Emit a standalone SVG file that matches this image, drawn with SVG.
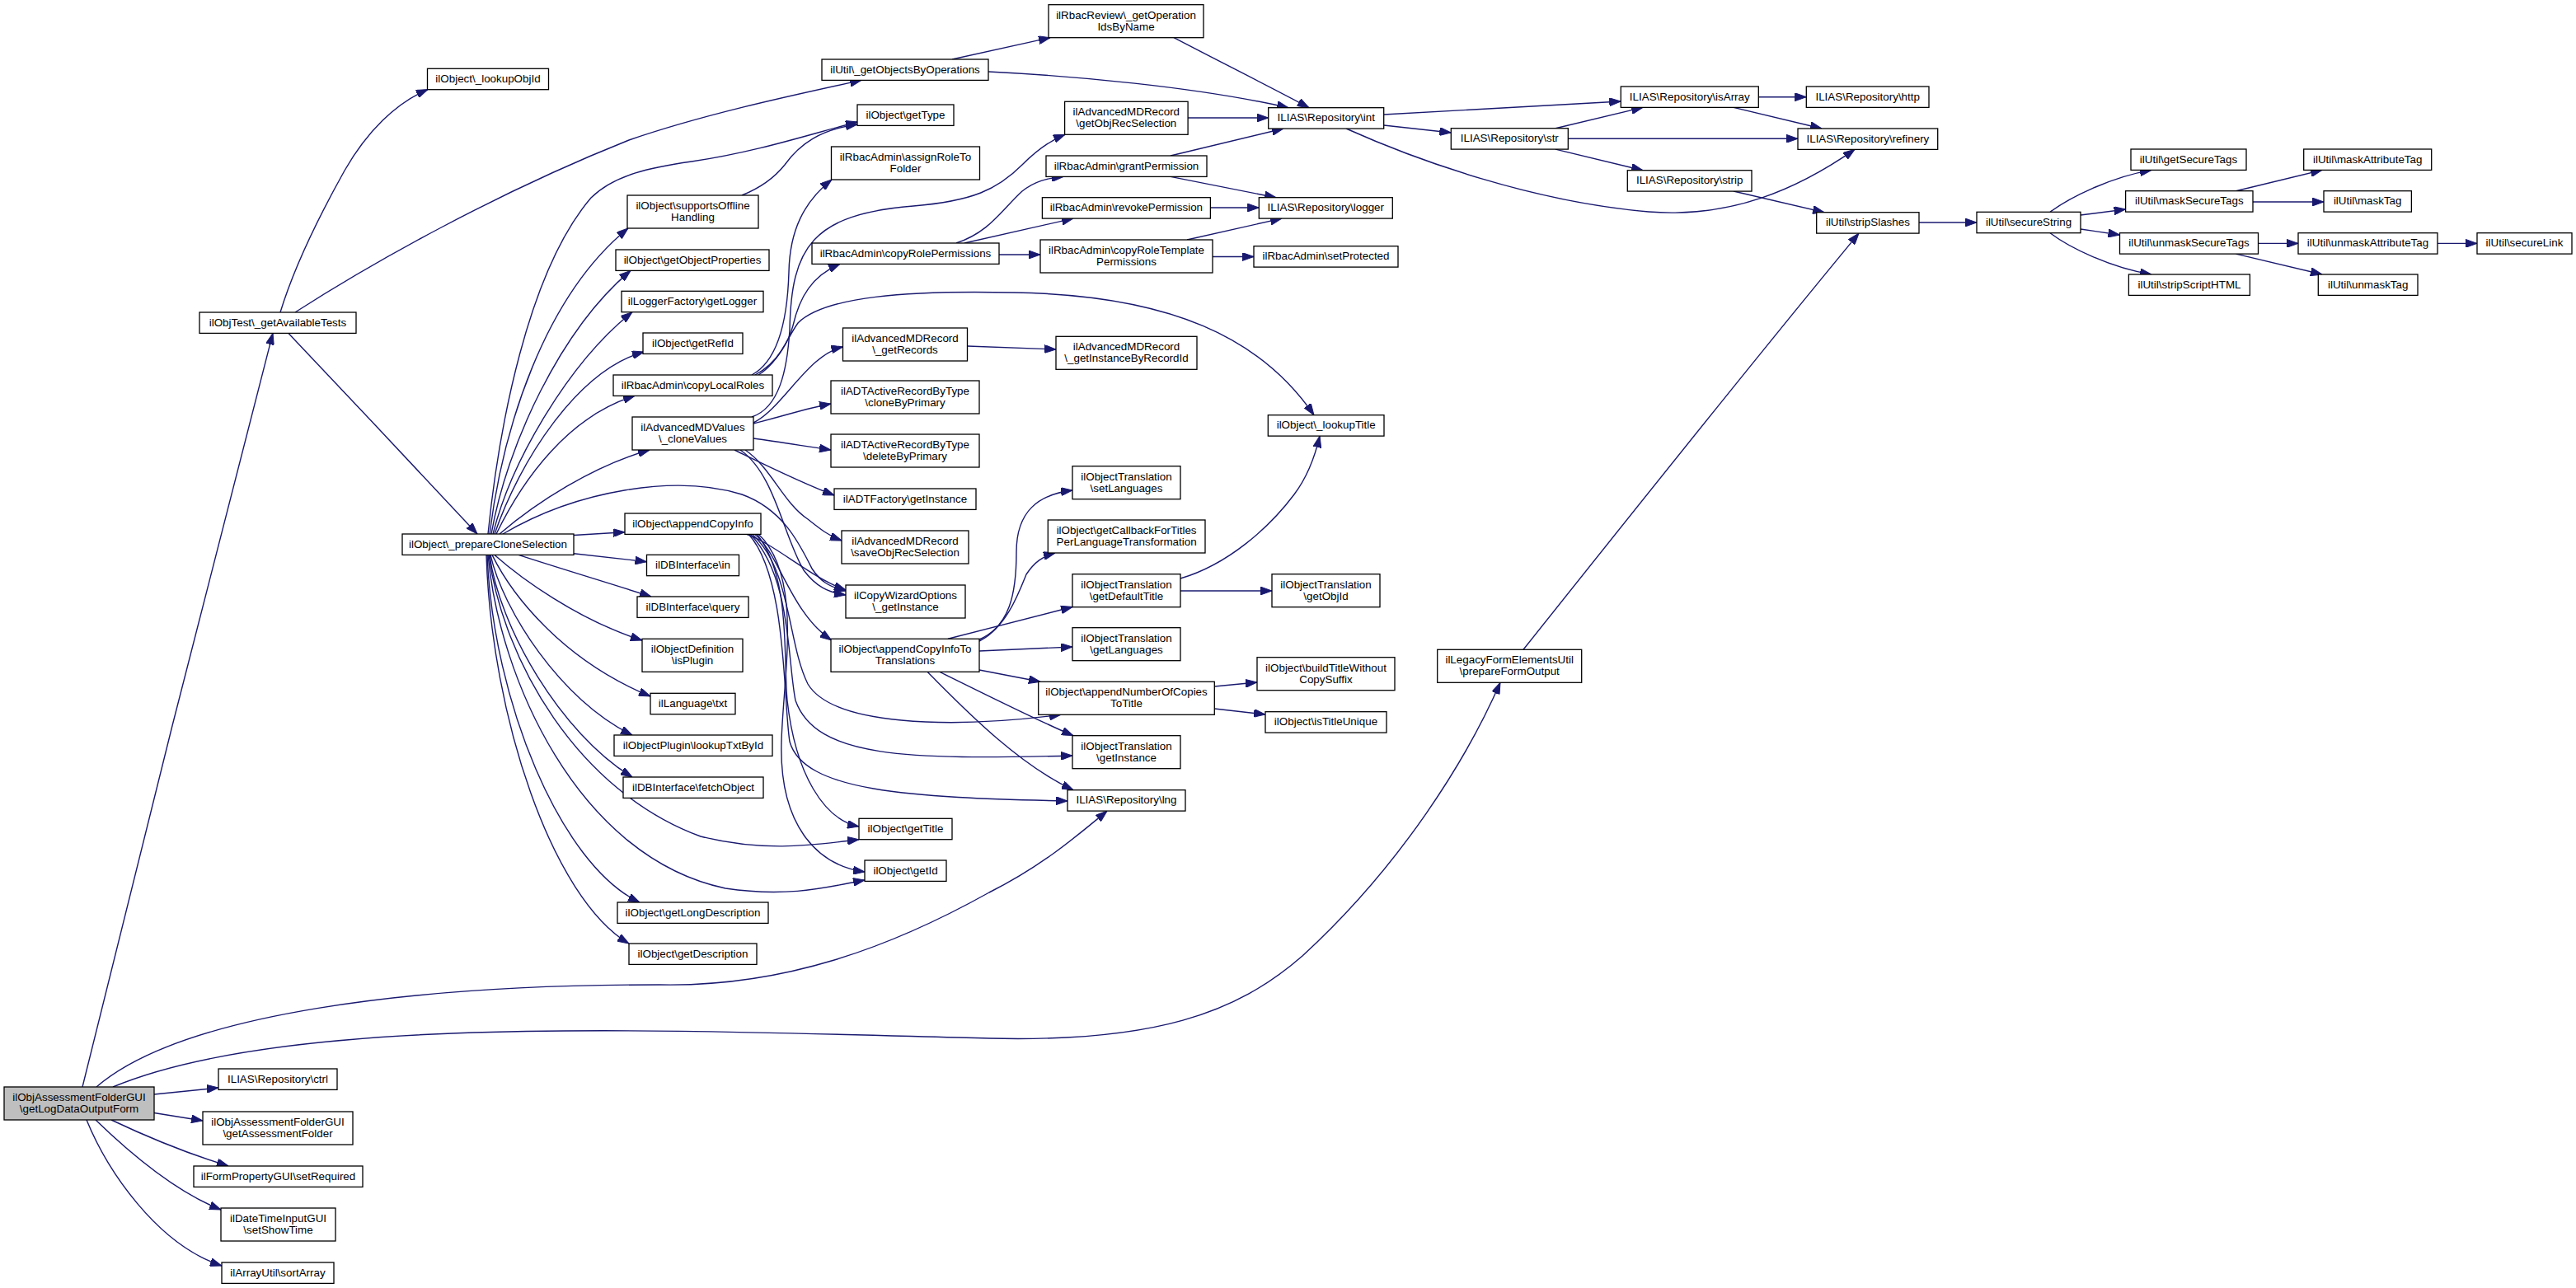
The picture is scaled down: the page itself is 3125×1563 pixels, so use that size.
<svg xmlns="http://www.w3.org/2000/svg" width="3125" height="1563" viewBox="0 0 3125 1563">
<defs>
<marker id="a" markerWidth="14" markerHeight="10" refX="14" refY="5" orient="auto" markerUnits="userSpaceOnUse"><path d="M0,0 L14,5 L0,10 z" fill="#191970" stroke="#191970" stroke-width="1"/></marker>
<style>
.n rect{fill:#fff;stroke:#000;stroke-width:1.3}
.n.m rect{fill:#bfbfbf}
.n text{font-family:"Liberation Sans",Arial,Helvetica,sans-serif;font-size:13.4px;text-anchor:middle;fill:#000}
.e path{fill:none;stroke:#191970;stroke-width:1.4;marker-end:url(#a)}
</style>
</defs>
<rect width="3125" height="1563" fill="#fff"/>
<g id="connectors" class="e">
<path d="M100,1319 C150,1110 290,560 331,404.4"/>
<path d="M187,1328 L265,1320"/>
<path d="M187,1350.5 L246,1360"/>
<path d="M135,1359 C175,1378 228,1400 277,1415"/>
<path d="M116,1359 C150,1392 210,1445 268,1468"/>
<path d="M105,1359 C130,1420 190,1510 269,1536"/>
<path d="M117,1319 C220,1230 500,1195 800,1195 C950,1198 1080,1150 1200,1083 C1260,1053 1300,1020 1343,984.1"/>
<path d="M137,1319 C350,1230 800,1250 1200,1260 C1400,1265 1500,1230 1580,1160 C1700,1050 1780,920 1820,828.3"/>
<path d="M340,379 C355,330 380,275 418,207 C445,160 480,125 519,108.6"/>
<path d="M358,379 C450,320 600,235 763,170 C850,140 950,118 1045,97.4"/>
<path d="M350,404.4 C420,478 520,585 579,648"/>
<path d="M592,648 C605,520 640,330 717,240 C745,212 790,203 839,196 C920,184 985,162 1040,148"/>
<path d="M594,648 C610,520 660,360 762,277"/>
<path d="M596,648 C615,540 680,400 765,328.4"/>
<path d="M598,648 C620,560 690,440 767,378.7"/>
<path d="M600,648 C630,560 700,450 781,427"/>
<path d="M602,648 C635,580 690,505 770,480.4"/>
<path d="M606,648 C650,610 720,565 788,546"/>
<path d="M610,648 C700,595 820,575 900,600 C950,618 970,660 985,690 C995,705 1005,712 1026,717"/>
<path d="M696,649.5 L758,645.7"/>
<path d="M696,671.7 L784.5,681.7"/>
<path d="M629,673.4 C680,690 740,708 790,724"/>
<path d="M600,673.4 C630,700 700,752 779,777"/>
<path d="M597,673.4 C620,720 680,800 789,845"/>
<path d="M595,673.4 C610,740 680,850 767,892"/>
<path d="M594,673.4 C605,760 680,890 767,943"/>
<path d="M593,673.4 C610,800 700,960 850,1015 C930,1035 990,1025 1042,1018.7"/>
<path d="M592,673.4 C605,820 700,1040 880,1078 C960,1090 1010,1075 1049,1068"/>
<path d="M591,673.4 C598,850 680,1050 776,1095"/>
<path d="M590,673.4 C596,870 670,1090 763,1145"/>
<path d="M900,237 C925,227 940,215 952,200 C970,175 995,157 1040,151"/>
<path d="M912,455 C940,440 955,400 957,330 C958,280 975,245 1009,218"/>
<path d="M916,455 C945,440 958,410 962,395 C970,360 985,335 1019,320.4"/>
<path d="M920,455 C945,440 955,410 968,392 C1000,360 1100,352 1230,355 C1420,358 1530,410 1594,503.7"/>
<path d="M912,506 C945,495 955,450 958,400 C960,300 985,260 1108,250 C1180,244 1210,230 1240,200 C1260,180 1275,170 1292,163.3"/>
<path d="M914,513 C950,495 980,430 1022.5,421"/>
<path d="M914,514 C950,505 980,495 1008,490"/>
<path d="M914,532 C950,537 980,542 1008,546"/>
<path d="M891,546 C930,565 970,585 1012,601"/>
<path d="M904,546 C935,567 950,610 980,630 C995,642 1005,650 1021,656"/>
<path d="M898,546 C940,575 950,650 975,692 C990,712 1005,719 1026,722"/>
<path d="M905,648 C940,660 985,702 1026,716"/>
<path d="M915,648 C945,670 958,742 1008.6,777"/>
<path d="M918,648 C960,700 950,800 955,850 C965,940 1000,995 1042,1003"/>
<path d="M920,648 C975,700 950,820 948,900 C945,1000 990,1050 1049,1058"/>
<path d="M912,648 C960,690 955,780 980,830 C1010,880 1150,885 1287,867.3"/>
<path d="M910,648 C960,700 955,800 965,850 C990,920 1100,922 1301,917"/>
<path d="M908,648 C955,700 950,850 958,900 C975,960 1100,968 1295,972"/>
<path d="M1188,776 C1225,760 1233,720 1233,670 C1233,620 1260,600 1301,595"/>
<path d="M1188,778 C1220,762 1235,722 1245,697 C1255,682 1265,675 1280,671"/>
<path d="M1150,775.3 L1301,736.5"/>
<path d="M1188,790 L1301,785"/>
<path d="M1188,813 L1262,827.3"/>
<path d="M1140,815.3 C1200,845 1260,875 1302,892.7"/>
<path d="M1125,815.3 C1160,850 1230,925 1302,958.7"/>
<path d="M1432,702 C1490,685 1540,640 1570,600 C1585,580 1595,555 1601,529.1"/>
<path d="M1432,717 L1543,717"/>
<path d="M1473.3,833 L1525,828"/>
<path d="M1473.3,860 L1535,867"/>
<path d="M1173.5,420 L1281,424"/>
<path d="M1155,72 L1274,45.7"/>
<path d="M1199,87 C1300,92 1450,105 1563,130.7"/>
<path d="M1424,45.7 C1480,75 1540,105 1588,130.7"/>
<path d="M1441,143 L1538.7,143"/>
<path d="M1420,189 L1557,156"/>
<path d="M1420,214.4 L1548,239.7"/>
<path d="M1468.4,252 L1527.3,252"/>
<path d="M1440,291 L1555,265.1"/>
<path d="M1471,311.5 L1521,311.5"/>
<path d="M1160,295 C1200,282 1215,255 1240,232 C1255,220 1270,216 1290,214.4"/>
<path d="M1170,295 L1302,265.1"/>
<path d="M1212,309 L1262,309"/>
<path d="M1678.7,139 L1966.3,123"/>
<path d="M1678.7,152 L1760.3,161"/>
<path d="M1633,156 C1720,195 1860,245 2000,257 C2100,265 2180,230 2250,181.4"/>
<path d="M1887,155.7 L1993,130.4"/>
<path d="M1902.3,168.3 L2181,168.3"/>
<path d="M1887,181.1 L1993,206.7"/>
<path d="M2133.3,117.7 L2191.3,117.7"/>
<path d="M2103,130.4 L2210,156"/>
<path d="M2103,232 L2213,257.7"/>
<path d="M2328,270 L2398,270"/>
<path d="M1848,788.3 C1950,660 2150,410 2255,283.1"/>
<path d="M2487,257.3 C2510,240 2560,215 2610,206.4"/>
<path d="M2524,261 L2578.6,254"/>
<path d="M2524,278 L2571.5,285"/>
<path d="M2487,282.7 C2510,300 2560,325 2610,333"/>
<path d="M2712.5,231.7 L2817,206.4"/>
<path d="M2733,245 L2819,245"/>
<path d="M2739.5,295.4 L2788,295.4"/>
<path d="M2712.5,308.1 L2817,333"/>
<path d="M2957,295.4 L3005,295.4"/>
</g>
<g id="n0" class="n m"><rect x="5" y="1319" width="182" height="40"/><text x="96" y="1336">ilObjAssessmentFolderGUI</text><text x="96" y="1350">\getLogDataOutputForm</text></g>
<g id="n1" class="n"><rect x="242" y="379" width="190" height="25.4"/><text x="337" y="395.5">ilObjTest\_getAvailableTests</text></g>
<g id="n2" class="n"><rect x="265" y="1297" width="144" height="25.4"/><text x="337" y="1313.5">ILIAS\Repository\ctrl</text></g>
<g id="n3" class="n"><rect x="246" y="1349" width="182" height="40"/><text x="337" y="1366">ilObjAssessmentFolderGUI</text><text x="337" y="1380">\getAssessmentFolder</text></g>
<g id="n4" class="n"><rect x="235" y="1415" width="205" height="25.4"/><text x="337.5" y="1431.5">ilFormPropertyGUI\setRequired</text></g>
<g id="n5" class="n"><rect x="268" y="1466" width="139" height="40"/><text x="337.5" y="1483">ilDateTimeInputGUI</text><text x="337.5" y="1497">\setShowTime</text></g>
<g id="n6" class="n"><rect x="269" y="1532" width="136" height="25.4"/><text x="337" y="1548.5">ilArrayUtil\sortArray</text></g>
<g id="n7" class="n"><rect x="518.5" y="83.3" width="147" height="25.4"/><text x="592" y="99.8">ilObject\_lookupObjId</text></g>
<g id="n8" class="n"><rect x="488" y="648" width="208" height="25.4"/><text x="592" y="664.5">ilObject\_prepareCloneSelection</text></g>
<g id="n9" class="n"><rect x="997" y="72" width="202" height="25.4"/><text x="1098" y="88.5">ilUtil\_getObjectsByOperations</text></g>
<g id="n10" class="n"><rect x="1040" y="127" width="117" height="25.4"/><text x="1098.5" y="143.5">ilObject\getType</text></g>
<g id="n11" class="n"><rect x="761" y="237" width="159" height="40"/><text x="840.5" y="254">ilObject\supportsOffline</text><text x="840.5" y="268">Handling</text></g>
<g id="n12" class="n"><rect x="747" y="303" width="186" height="25.4"/><text x="840" y="319.5">ilObject\getObjectProperties</text></g>
<g id="n13" class="n"><rect x="754" y="353.3" width="172" height="25.4"/><text x="840" y="369.8">ilLoggerFactory\getLogger</text></g>
<g id="n14" class="n"><rect x="780" y="404" width="121" height="25.4"/><text x="840.5" y="420.5">ilObject\getRefId</text></g>
<g id="n15" class="n"><rect x="744" y="455" width="193" height="25.4"/><text x="840.5" y="471.5">ilRbacAdmin\copyLocalRoles</text></g>
<g id="n16" class="n"><rect x="767" y="506" width="147" height="40"/><text x="840.5" y="523">ilAdvancedMDValues</text><text x="840.5" y="537">\_cloneValues</text></g>
<g id="n17" class="n"><rect x="758" y="623" width="165" height="25.4"/><text x="840.5" y="639.5">ilObject\appendCopyInfo</text></g>
<g id="n18" class="n"><rect x="784.5" y="673.3" width="112" height="25.4"/><text x="840.5" y="689.8">ilDBInterface\in</text></g>
<g id="n19" class="n"><rect x="773" y="724" width="135" height="25.4"/><text x="840.5" y="740.5">ilDBInterface\query</text></g>
<g id="n20" class="n"><rect x="779" y="775.3" width="122" height="40"/><text x="840" y="792.3">ilObjectDefinition</text><text x="840" y="806.3">\isPlugin</text></g>
<g id="n21" class="n"><rect x="789" y="841.3" width="103" height="25.4"/><text x="840.5" y="857.8">ilLanguage\txt</text></g>
<g id="n22" class="n"><rect x="745" y="892" width="192" height="25.4"/><text x="841" y="908.5">ilObjectPlugin\lookupTxtById</text></g>
<g id="n23" class="n"><rect x="756" y="943" width="170" height="25.4"/><text x="841" y="959.5">ilDBInterface\fetchObject</text></g>
<g id="n24" class="n"><rect x="749" y="1095" width="183" height="25.4"/><text x="840.5" y="1111.5">ilObject\getLongDescription</text></g>
<g id="n25" class="n"><rect x="763" y="1145" width="155" height="25.4"/><text x="840.5" y="1161.5">ilObject\getDescription</text></g>
<g id="n26" class="n"><rect x="1008.5" y="178" width="180" height="40"/><text x="1098.5" y="195">ilRbacAdmin\assignRoleTo</text><text x="1098.5" y="209">Folder</text></g>
<g id="n27" class="n"><rect x="985" y="295" width="227" height="25.4"/><text x="1098.5" y="311.5">ilRbacAdmin\copyRolePermissions</text></g>
<g id="n28" class="n"><rect x="1022.5" y="398" width="151" height="40"/><text x="1098" y="415">ilAdvancedMDRecord</text><text x="1098" y="429">\_getRecords</text></g>
<g id="n29" class="n"><rect x="1008" y="462" width="180" height="40"/><text x="1098" y="479">ilADTActiveRecordByType</text><text x="1098" y="493">\cloneByPrimary</text></g>
<g id="n30" class="n"><rect x="1008" y="527" width="180" height="40"/><text x="1098" y="544">ilADTActiveRecordByType</text><text x="1098" y="558">\deleteByPrimary</text></g>
<g id="n31" class="n"><rect x="1012" y="593" width="172" height="25.4"/><text x="1098" y="609.5">ilADTFactory\getInstance</text></g>
<g id="n32" class="n"><rect x="1021" y="644" width="154" height="40"/><text x="1098" y="661">ilAdvancedMDRecord</text><text x="1098" y="675">\saveObjRecSelection</text></g>
<g id="n33" class="n"><rect x="1026" y="710" width="145" height="40"/><text x="1098.5" y="727">ilCopyWizardOptions</text><text x="1098.5" y="741">\_getInstance</text></g>
<g id="n34" class="n"><rect x="1008" y="775.3" width="180" height="40"/><text x="1098" y="792.3">ilObject\appendCopyInfoTo</text><text x="1098" y="806.3">Translations</text></g>
<g id="n35" class="n"><rect x="1042" y="993.3" width="113" height="25.4"/><text x="1098.5" y="1009.8">ilObject\getTitle</text></g>
<g id="n36" class="n"><rect x="1049" y="1044" width="99" height="25.4"/><text x="1098.5" y="1060.5">ilObject\getId</text></g>
<g id="n37" class="n"><rect x="1272" y="5.7" width="188" height="40"/><text x="1366" y="22.7">ilRbacReview\_getOperation</text><text x="1366" y="36.7">IdsByName</text></g>
<g id="n38" class="n"><rect x="1291.6" y="123.3" width="149.5" height="40"/><text x="1366.3" y="140.3">ilAdvancedMDRecord</text><text x="1366.3" y="154.3">\getObjRecSelection</text></g>
<g id="n39" class="n"><rect x="1269" y="189" width="195" height="25.4"/><text x="1366.5" y="205.5">ilRbacAdmin\grantPermission</text></g>
<g id="n40" class="n"><rect x="1264.4" y="239.7" width="204" height="25.4"/><text x="1366.4" y="256.2">ilRbacAdmin\revokePermission</text></g>
<g id="n41" class="n"><rect x="1262" y="291" width="209" height="40"/><text x="1366.5" y="308">ilRbacAdmin\copyRoleTemplate</text><text x="1366.5" y="322">Permissions</text></g>
<g id="n42" class="n"><rect x="1281" y="408.3" width="171" height="40"/><text x="1366.5" y="425.3">ilAdvancedMDRecord</text><text x="1366.5" y="439.3">\_getInstanceByRecordId</text></g>
<g id="n43" class="n"><rect x="1301" y="565.7" width="131" height="40"/><text x="1366.5" y="582.7">ilObjectTranslation</text><text x="1366.5" y="596.7">\setLanguages</text></g>
<g id="n44" class="n"><rect x="1271.3" y="631" width="190.7" height="40"/><text x="1366.6" y="648">ilObject\getCallbackForTitles</text><text x="1366.6" y="662">PerLanguageTransformation</text></g>
<g id="n45" class="n"><rect x="1301" y="696.7" width="131" height="40"/><text x="1366.5" y="713.7">ilObjectTranslation</text><text x="1366.5" y="727.7">\getDefaultTitle</text></g>
<g id="n46" class="n"><rect x="1301" y="761.7" width="131" height="40"/><text x="1366.5" y="778.7">ilObjectTranslation</text><text x="1366.5" y="792.7">\getLanguages</text></g>
<g id="n47" class="n"><rect x="1259.7" y="827.3" width="213.6" height="40"/><text x="1366.5" y="844.3">ilObject\appendNumberOfCopies</text><text x="1366.5" y="858.3">ToTitle</text></g>
<g id="n48" class="n"><rect x="1301" y="892.7" width="131" height="40"/><text x="1366.5" y="909.7">ilObjectTranslation</text><text x="1366.5" y="923.7">\getInstance</text></g>
<g id="n49" class="n"><rect x="1295" y="958.7" width="143" height="25.4"/><text x="1366.5" y="975.2">ILIAS\Repository\lng</text></g>
<g id="n50" class="n"><rect x="1538.7" y="130.7" width="140" height="25.4"/><text x="1608.7" y="147.2">ILIAS\Repository\int</text></g>
<g id="n51" class="n"><rect x="1527.3" y="239.7" width="162" height="25.4"/><text x="1608.3" y="256.2">ILIAS\Repository\logger</text></g>
<g id="n52" class="n"><rect x="1521" y="298.7" width="175" height="25.4"/><text x="1608.5" y="315.2">ilRbacAdmin\setProtected</text></g>
<g id="n53" class="n"><rect x="1538.3" y="503.7" width="140.7" height="25.4"/><text x="1608.7" y="520.2">ilObject\_lookupTitle</text></g>
<g id="n54" class="n"><rect x="1543" y="696.7" width="131" height="40"/><text x="1608.5" y="713.7">ilObjectTranslation</text><text x="1608.5" y="727.7">\getObjId</text></g>
<g id="n55" class="n"><rect x="1525" y="797.7" width="167" height="40"/><text x="1608.5" y="814.7">ilObject\buildTitleWithout</text><text x="1608.5" y="828.7">CopySuffix</text></g>
<g id="n56" class="n"><rect x="1535" y="863.7" width="147" height="25.4"/><text x="1608.5" y="880.2">ilObject\isTitleUnique</text></g>
<g id="n57" class="n"><rect x="1760.3" y="155.7" width="142" height="25.4"/><text x="1831.3" y="172.2">ILIAS\Repository\str</text></g>
<g id="n58" class="n"><rect x="1743.7" y="788.3" width="175" height="40"/><text x="1831.2" y="805.3">ilLegacyFormElementsUtil</text><text x="1831.2" y="819.3">\prepareFormOutput</text></g>
<g id="n59" class="n"><rect x="1966.3" y="105" width="167" height="25.4"/><text x="2049.8" y="121.5">ILIAS\Repository\isArray</text></g>
<g id="n60" class="n"><rect x="1974.3" y="206.7" width="150.7" height="25.4"/><text x="2049.7" y="223.2">ILIAS\Repository\strip</text></g>
<g id="n61" class="n"><rect x="2191.3" y="105" width="148.7" height="25.4"/><text x="2265.7" y="121.5">ILIAS\Repository\http</text></g>
<g id="n62" class="n"><rect x="2181" y="156" width="169.7" height="25.4"/><text x="2265.9" y="172.5">ILIAS\Repository\refinery</text></g>
<g id="n63" class="n"><rect x="2203.7" y="257.7" width="124.3" height="25.4"/><text x="2265.9" y="274.2">ilUtil\stripSlashes</text></g>
<g id="n64" class="n"><rect x="2398" y="257.3" width="126" height="25.4"/><text x="2461" y="273.8">ilUtil\secureString</text></g>
<g id="n65" class="n"><rect x="2585" y="181" width="140" height="25.4"/><text x="2655" y="197.5">ilUtil\getSecureTags</text></g>
<g id="n66" class="n"><rect x="2578.6" y="231.7" width="154.4" height="25.4"/><text x="2655.8" y="248.2">ilUtil\maskSecureTags</text></g>
<g id="n67" class="n"><rect x="2571.5" y="282.7" width="168" height="25.4"/><text x="2655.5" y="299.2">ilUtil\unmaskSecureTags</text></g>
<g id="n68" class="n"><rect x="2582.4" y="333" width="147" height="25.4"/><text x="2656" y="349.5">ilUtil\stripScriptHTML</text></g>
<g id="n69" class="n"><rect x="2794.7" y="181" width="155" height="25.4"/><text x="2872.2" y="197.5">ilUtil\maskAttributeTag</text></g>
<g id="n70" class="n"><rect x="2819" y="231.7" width="106.4" height="25.4"/><text x="2872.2" y="248.2">ilUtil\maskTag</text></g>
<g id="n71" class="n"><rect x="2788" y="282.7" width="169" height="25.4"/><text x="2872.5" y="299.2">ilUtil\unmaskAttributeTag</text></g>
<g id="n72" class="n"><rect x="2812.3" y="333" width="120.7" height="25.4"/><text x="2872.7" y="349.5">ilUtil\unmaskTag</text></g>
<g id="n73" class="n"><rect x="3005" y="282.7" width="115" height="25.4"/><text x="3062.5" y="299.2">ilUtil\secureLink</text></g>
</svg>
